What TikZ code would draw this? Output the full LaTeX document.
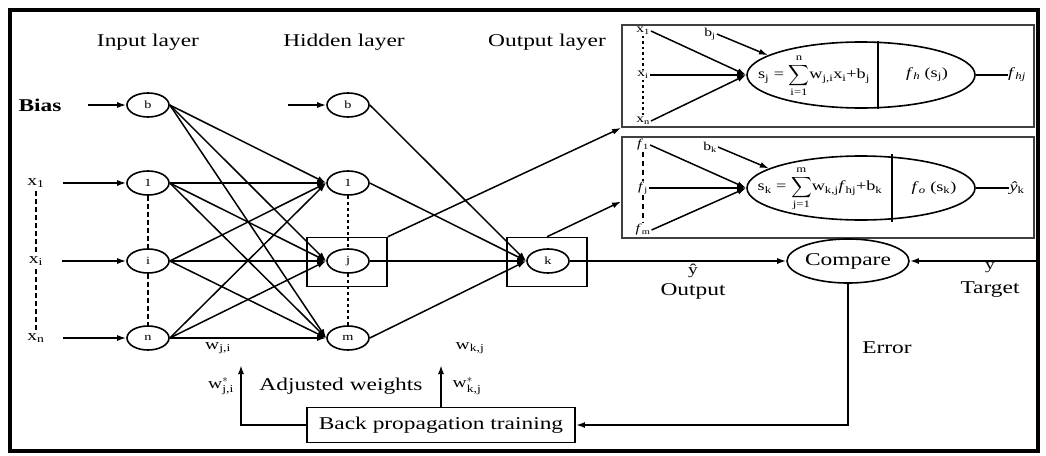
\documentclass[tikz,border=0pt]{standalone}
\usepackage{amsmath}
\usepackage{fontspec}
\setmainfont{Liberation Serif}[FakeStretch=1.3]
\usetikzlibrary{shapes.geometric,arrows.meta}

\begin{document}
\begin{tikzpicture}[x=1pt,y=-1pt,>={Latex[length=9pt,width=6pt]},
	neuron/.style={ellipse,draw,line width=1.6pt,fill=white,minimum width=42pt,minimum height=24pt,inner sep=0pt,font=\fontsize{11}{11}\selectfont},
	heading/.style={font=\fontsize{18}{18}\selectfont},
	label/.style={font=\fontsize{15}{15}\selectfont},
	tiny/.style={font=\fontsize{12}{12}\selectfont,inner sep=1pt},
	formula/.style={font=\fontsize{14}{14}\selectfont,inner sep=0pt},
	link/.style={->,line width=1.5pt},
	inset/.style={draw=black!75,line width=1.8pt,minimum width=412pt,inner sep=0pt},
	frame/.style={draw,line width=1.5pt,minimum width=80pt,minimum height=49pt}]
	\useasboundingbox (0,0) rectangle (1046,455);
	\draw[line width=4pt] (10,10) rectangle (1038,451);
	\node[heading] (inlayer) at (148,42) {Input layer};
	\node[heading] (hidlayer) at (344,42) {Hidden layer};
	\node[heading] (outlayer) at (547,42) {Output layer};
	\node[frame] (jbox) at (347,262) {};
	\node[frame] (kbox) at (547,262) {};
	\node[neuron] (ib) at (148,105) {b};
	\node[neuron] (i1) at (148,183) {1};
	\node[neuron] (ii) at (148,261) {i};
	\node[neuron] (in) at (148,338) {n};
	\node[neuron] (hb) at (348,105) {b};
	\node[neuron] (h1) at (348,183) {1};
	\node[neuron] (hj) at (348,261) {j};
	\node[neuron] (hm) at (348,338) {m};
	\node[neuron] (k) at (548,261) {k};
	\node[heading,font=\bfseries\fontsize{18}{18}\selectfont] (bias) at (40,105) {Bias};
	\node[label] (x1) at (36,183) {x\textsubscript{1}};
	\node[label] (xi) at (36,261) {x\textsubscript{i}};
	\node[label] (xn) at (36,338) {x\textsubscript{n}};
	\coordinate (biasin) at (88,105);
	\coordinate (hbin) at (288,105);
	\draw[line width=2.5pt,dash pattern=on 5pt off 3pt] (x1) -- (xi) (xi) -- (xn);
	\draw[line width=2.5pt,dash pattern=on 5pt off 3pt] (i1) -- (ii) (ii) -- (in);
	\draw[line width=1.3pt,dashed] (h1) -- (hj) (hj) -- (hm);
	\draw[link] (biasin) -- (ib.west);
	\draw[link] (hbin) -- (hb.west);
	\draw[link,shorten <=15pt] (x1.east) -- (i1.west);
	\draw[link,shorten <=15pt] (xi.east) -- (ii.west);
	\draw[link,shorten <=15pt] (xn.east) -- (in.west);
	\draw[link] (ib.east) -- (h1.west);
	\draw[link] (ib.east) -- (hj.west);
	\draw[link] (ib.east) -- (hm.west);
	\draw[link] (i1.east) -- (h1.west);
	\draw[link] (i1.east) -- (hj.west);
	\draw[link] (i1.east) -- (hm.west);
	\draw[link] (ii.east) -- (h1.west);
	\draw[link] (ii.east) -- (hj.west);
	\draw[link] (ii.east) -- (hm.west);
	\draw[link] (in.east) -- (h1.west);
	\draw[link] (in.east) -- (hj.west);
	\draw[link] (in.east) -- (hm.west);
	\draw[link] (hb.east) -- (k.west);
	\draw[link] (h1.east) -- (k.west);
	\draw[link] (hj.east) -- (k.west);
	\draw[link] (hm.east) -- (k.west);
	\node[inset,minimum height=102pt] (hbox) at (828,76) {};
	\node[inset,minimum height=101pt] (obox) at (828,187.5) {};
	\draw[link] (jbox.north east) -- (hbox.south west);
	\draw[link] (kbox.north) -- ([yshift=-14pt]obox.west);
	\node[tiny] (hx1) at (643,31) {x\textsubscript{1}};
	\node[tiny] (hxi) at (643,75) {x\textsubscript{i}};
	\node[tiny] (hxn) at (643,121) {x\textsubscript{n}};
	\draw[line width=2pt,dash pattern=on 2.5pt off 3pt] (hx1) -- (hxi) (hxi) -- (hxn);
	\node[ellipse,draw,line width=1.6pt,minimum width=228pt,minimum height=66pt] (hsum) at (861,75) {};
	\draw[line width=1.6pt] ([xshift=17pt]hsum.north) -- ([xshift=17pt]hsum.south);
	\node[formula] (hsumtxt) at (814,76) {s\textsubscript{j} = $\displaystyle\sum_{\text{i=1}}^{\text{n}}$w\textsubscript{j,i}x\textsubscript{i}+b\textsubscript{j}};
	\node[formula] (hact) at (927,75) {\textit{f}\textsubscript{\textit{h}} (s\textsubscript{j})};
	\node[tiny] (bj) at (710,34) {b\textsubscript{j}};
	\node[formula] (fhj) at (1017,75) {\textit{f}\textsubscript{\textit{hj}}};
	\draw[link] (bj.east) -- (hsum.168);
	\draw[link] (hx1.east) -- (hsum.west);
	\draw[link] (hxi.east) -- (hsum.west);
	\draw[link] (hxn.east) -- (hsum.west);
	\draw[line width=1.3pt] (hsum.east) -- (fhj.west);
	\node[tiny] (of1) at (643,145) {\textit{f}\textsubscript{1}};
	\node[tiny] (ofj) at (643,188) {\textit{f}\textsubscript{j}};
	\node[tiny] (ofm) at (643,230) {\textit{f}\textsubscript{m}};
	\draw[line width=2pt,dash pattern=on 5pt off 4pt] (of1) -- (ofj) (ofj) -- (ofm);
	\node[ellipse,draw,line width=1.6pt,minimum width=228pt,minimum height=64pt] (osum) at (861,188) {};
	\draw[line width=1.6pt] ([xshift=31pt,yshift=1pt]osum.north) -- ([xshift=31pt,yshift=-1pt]osum.south);
	\node[formula] (osumtxt) at (820,189) {s\textsubscript{k} = $\displaystyle\sum_{\text{j=1}}^{\text{m}}$w\textsubscript{k,j}\textit{f}\textsubscript{hj}+b\textsubscript{k}};
	\node[formula] (oact) at (934,188) {\textit{f}\textsubscript{\textit{o}} (s\textsubscript{k})};
	\node[tiny] (bk) at (710,147) {b\textsubscript{k}};
	\node[formula] (yk) at (1017,188) {\textit{ŷ}\textsubscript{k}};
	\draw[link] (bk.east) -- (osum.168);
	\draw[link] (of1.east) -- (osum.west);
	\draw[link] (ofj.east) -- (osum.west);
	\draw[link] (ofm.east) -- (osum.west);
	\draw[line width=1.3pt] (osum.east) -- (yk.west);
	\node[ellipse,draw,line width=1.6pt,fill=white,minimum width=122pt,minimum height=44pt,inner sep=0pt,heading] (cmp) at (848,261) {Compare};
	\coordinate (tgt) at (1038,261);
	\draw[link] (k.east) -- (cmp.west);
	\draw[link,line width=1.8pt] (tgt) -- (cmp.east);
	\node[label] (yhat) at (693,271) {ŷ};
	\node[heading] (outlbl) at (693,291) {Output};
	\node[label] (ytgt) at (990,268) {y};
	\node[heading] (tgtlbl) at (990,290) {Target};
	\node[heading] (err) at (887,348) {Error};
	\node[draw,line width=1.8pt,minimum width=268pt,minimum height=35pt,heading] (bp) at (441,425) {Back propagation training};
	\draw[link,line width=2.2pt] (cmp.south) |- (bp.east);
	\coordinate (wjiup) at (241,365);
	\coordinate (wkjup) at (441,365);
	\draw[link,line width=1.8pt] (bp.west) -| (wjiup);
	\draw[link,line width=1.8pt] (bp.north) -- (wkjup);
	\node[label] (wji) at (218,348) {w\textsubscript{j,i}};
	\node[label] (wjistar) at (221,386) {$\text{w}^{*}_{\text{j,i}}$};
	\node[heading] (adj) at (341,386) {Adjusted weights};
	\node[label] (wkj) at (470,348) {w\textsubscript{k,j}};
	\node[label] (wkjstar) at (467,386) {$\text{w}^{*}_{\text{k,j}}$};
\end{tikzpicture}
\end{document}
